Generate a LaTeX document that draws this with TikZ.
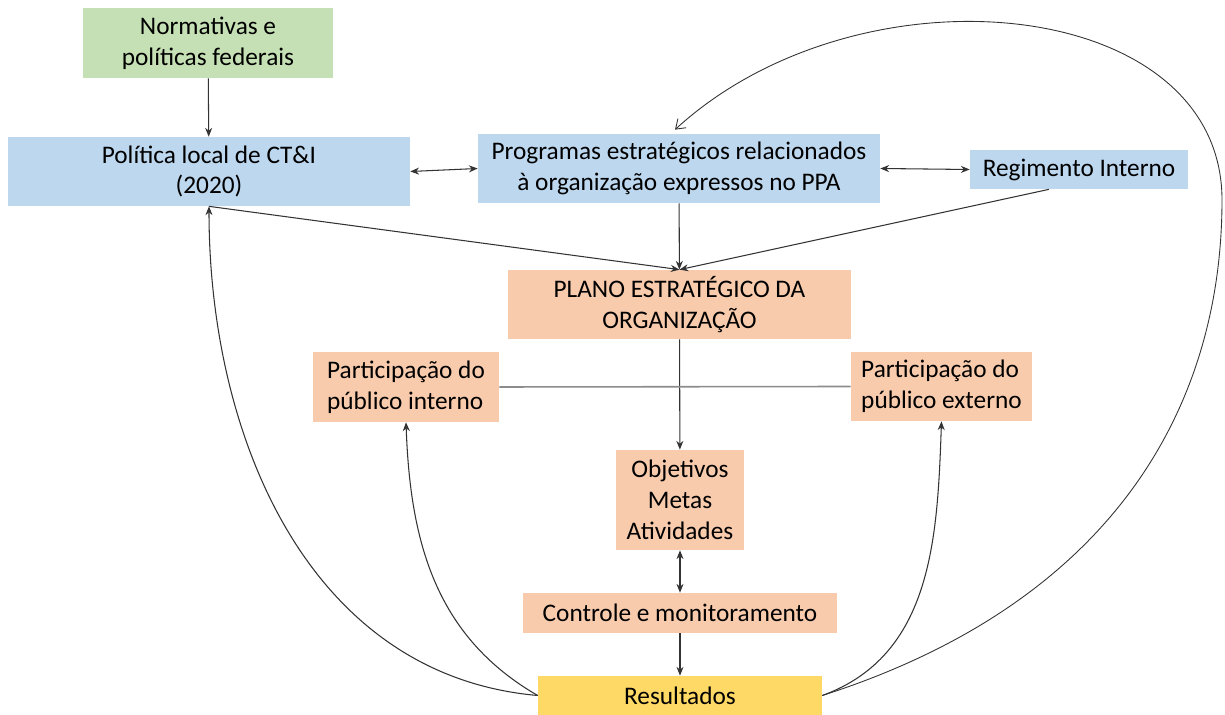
\documentclass[tikz,border=0pt]{standalone}
\usepackage{fontspec}
\setmainfont{Carlito}
\usetikzlibrary{arrows.meta}
\definecolor{azul}{HTML}{BDD7EE}
\definecolor{verde}{HTML}{C5E0B4}
\definecolor{salmao}{HTML}{F8CBAD}
\definecolor{ouro}{HTML}{FFD966}
\tikzset{
  caixa/.style={inner sep=2pt,align=center,font=\fontsize{14.4}{17.5}\selectfont},
  seta/.style={draw=black!80,line width=0.6pt,-{Stealth[length=5pt,width=4pt]}},
  dupla/.style={draw=black!80,line width=0.6pt,{Stealth[length=5pt,width=4pt]}-{Stealth[length=5pt,width=4pt]}},
}
\begin{document}
\begin{tikzpicture}[x=0.02cm,y=-0.02cm]
        \useasboundingbox (0,0) rectangle (1225,715);
        \node[caixa,fill=verde,minimum width=5cm,minimum height=1.4cm] (norm) at (208,43) {Normativas e\\políticas federais};
        \node[caixa,fill=azul,minimum width=8.04cm,minimum height=1.38cm] (pol) at (209,171.5) {Política local de CT\&I\\(2020)};
        \node[caixa,fill=azul,minimum width=8.04cm,minimum height=1.38cm] (prog) at (679,168.5) {Programas estratégicos relacionados\\à organização expressos no PPA};
        \node[caixa,fill=azul,minimum width=4.36cm,minimum height=0.78cm] (reg) at (1079,169.5) {Regimento Interno};
        \node[caixa,fill=salmao,minimum width=6.86cm,minimum height=1.38cm] (plano) at (679.5,304.5) {PLANO ESTRATÉGICO DA\\ORGANIZAÇÃO};
        \node[caixa,fill=salmao,minimum width=3.72cm,minimum height=1.4cm,align=left] (pint) at (406,387) {Participação do\\público interno};
        \node[caixa,fill=salmao,minimum width=3.62cm,minimum height=1.38cm,align=left] (pext) at (941.5,386.5) {Participação do\\público externo};
        \node[caixa,fill=salmao,minimum width=2.56cm,minimum height=2cm] (obj) at (680,500) {Objetivos\\Metas\\Atividades};
        \node[caixa,fill=salmao,minimum width=6.28cm,minimum height=0.8cm] (ctrl) at (680,613) {Controle e monitoramento};
        \node[caixa,fill=ouro,minimum width=5.68cm,minimum height=0.78cm] (res) at (680,695.5) {Resultados};

        \draw[seta] (norm) -- (pol);
        \draw[dupla] (pol.east) -- (prog.west);
        \draw[dupla] (prog.east) -- (reg.west);
        \draw[seta] (prog) -- (plano);
        \draw[seta] (pol.south) -- (plano.north);
        \draw[seta] ([xshift=-0.6cm]reg.south) -- (plano.north);
        \draw[seta] (plano) -- (obj);
        \draw[draw=black!45,line width=0.9pt] (pint.east) -- (pext.west);
        \draw[dupla] (obj) -- (ctrl);
        \draw[seta] (ctrl) -- (res);
        \draw[seta] (res.west) to[out=175,in=-90] (pol.south);
        \draw[seta] (res.west) to[out=150,in=-88] (pint.south);
        \draw[seta] (res.east) to[out=20,in=-92] (pext.south);
        \draw[draw=black!80,line width=0.5pt,-{Straight Barb[length=5pt,width=7pt]}] (res.east)
            .. controls (1120,600) and (1222,400) .. (1222,200)
            .. controls (1222,-5) and (860,-40) .. ([shift={(-0.08cm,0.08cm)}]prog.north);
    \end{tikzpicture}
\end{document}
